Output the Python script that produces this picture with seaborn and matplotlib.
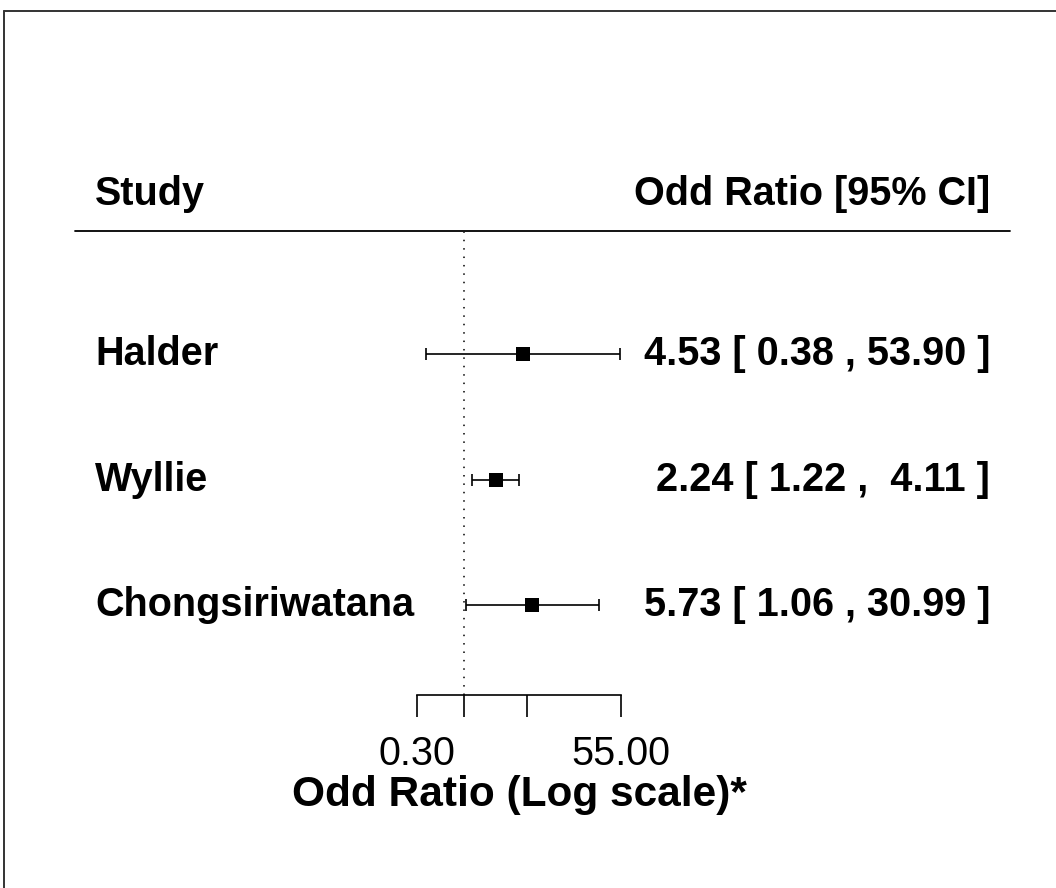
import numpy as np
import pandas as pd
import seaborn as sns
import matplotlib.pyplot as plt
from matplotlib.lines import Line2D

# dados do forest plot
estudos = ["Halder", "Wyllie", "Chongsiriwatana"]
odds = [4.53, 2.24, 5.73]
ic_inf = [0.38, 1.22, 1.06]
ic_sup = [53.90, 4.11, 30.99]
linhas = [3, 2, 1]
ticks_x = [0.30, 1.00, 5.00, 55.00]
ticks_lab = ["0.30", "", "", "55.00"]

dados = pd.DataFrame({"Estudo": estudos, "OR": odds, "Inf": ic_inf, "Sup": ic_sup, "Linha": linhas})

sns.set_theme(style="white")
plt.rcParams['font.family'] = ['Liberation Sans', 'DejaVu Sans']
plt.rcParams['text.color'] = 'black'
plt.rcParams['xtick.color'] = 'black'
plt.rcParams['xtick.labelcolor'] = 'black'
FS = 28.5

W, H = 1056, 888
fig = plt.figure(figsize=(W / 100, H / 100), dpi=100)

# escala: pixels -> coordenadas
k = 204 / np.log(55 / 0.3)          # px por unidade de log
xmin = 0.3 * np.exp(-417 / k)
xmax = 0.3 * np.exp((W - 417) / k)
passo = 125.5                      # px entre linhas
def py(p):
    return 3 + (354 - p) / passo

ax = fig.add_axes([0, 0, 1, 1])
ax.set_xscale("log")
ax.set_xlim(xmin, xmax)
ax.set_ylim(py(H), py(0))
ax.axis("off")

# linha de referencia OR = 1
ax.vlines(1, py(695), py(232), colors="black", linewidth=1.1, linestyles=(0, (1, 4.5)))

# intervalos de confianca
ax.errorbar(dados["OR"], dados["Linha"],
            xerr=[dados["OR"] - dados["Inf"], dados["Sup"] - dados["OR"]],
            fmt="none", ecolor="black", elinewidth=1.2, capsize=4, capthick=1.2)
sns.scatterplot(x="OR", y="Linha", data=dados, marker="s", s=100, color="black",
                edgecolor="black", linewidth=0, ax=ax, zorder=3)
ax.set_xlabel("")
ax.set_ylabel("")

# textos
tr = ax.get_yaxis_transform()
for est, o, l, u, r in zip(estudos, odds, ic_inf, ic_sup, linhas):
    ax.text(95 / W, r - 11 / passo, est, transform=tr, ha="left", va="baseline",
            fontsize=FS, fontweight="bold")
    ax.text(990 / W, r - 11 / passo, f"{o:.2f} [ {l:4.2f} , {u:5.2f} ]", transform=tr,
            ha="right", va="baseline", fontsize=FS, fontweight="bold")

ax.text(95 / W, py(205), "Study", transform=tr, ha="left", va="baseline",
        fontsize=FS, fontweight="bold")
ax.text(990 / W, py(205), "Odd Ratio [95% CI]", transform=tr, ha="right", va="baseline",
        fontsize=FS, fontweight="bold")
ax.plot([75 / W, 1010 / W], [py(231), py(231)], transform=tr, color="black", linewidth=1.3)

ax.text(np.sqrt(0.30 * 55.00), py(806), "Odd Ratio (Log scale)*", ha="center", va="baseline",
        fontsize=30.5, fontweight="bold")

# eixo x
ax2 = fig.add_axes([0, (H - 695) / H, 1, 0.001], sharex=ax)
ax2.patch.set_visible(False)
for s in ["top", "left", "right"]:
    ax2.spines[s].set_visible(False)
ax2.spines["bottom"].set_bounds(0.30, 55.00)
ax2.spines["bottom"].set_linewidth(1.2)
ax2.spines["bottom"].set_color("black")
ax2.set_yticks([])
ax2.set_xticks(ticks_x)
ax2.set_xticklabels(ticks_lab)
ax2.xaxis.set_minor_locator(plt.NullLocator())
ax2.tick_params(axis="x", direction="out", length=15.8, width=1.2, color="black",
                labelcolor="black", labelsize=FS, pad=13, bottom=True)

# moldura
fig.add_artist(Line2D([4 / W, 4 / W], [0, (H - 11) / H], color="#333333", linewidth=1.4))
fig.add_artist(Line2D([4 / W, 1], [(H - 11) / H, (H - 11) / H], color="#333333", linewidth=1.4))

fig.savefig("out.png", dpi=100, facecolor="white")
